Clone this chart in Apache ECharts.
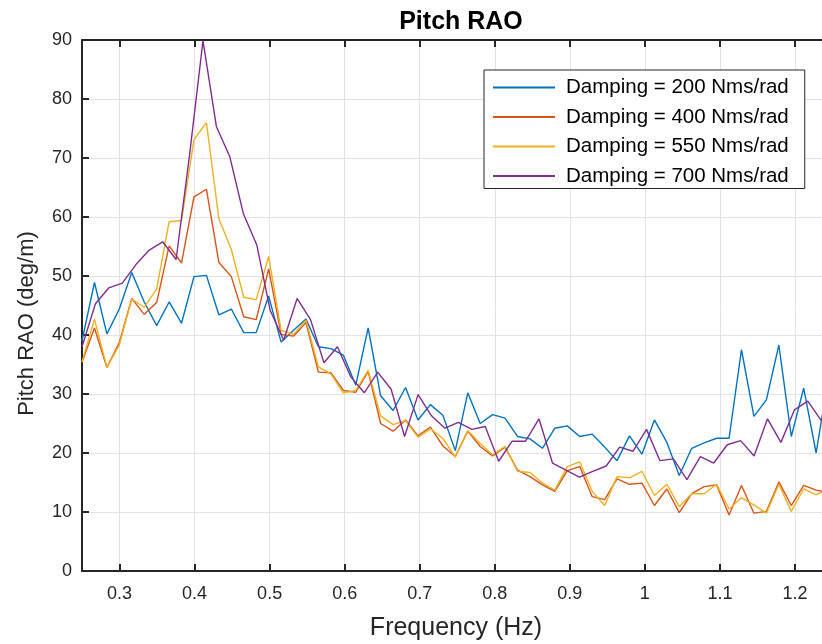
<!DOCTYPE html>
<html><head><meta charset="utf-8">
<script src="https://cdn.jsdelivr.net/npm/echarts@6/dist/echarts.min.js"></script>
<style>html,body{margin:0;padding:0;background:#fff}#c{width:822px;height:644px}</style>
</head><body><div id="c"></div>
<script>
// Frequency grid (Hz) shared by the 200/400/550 Nms/rad runs
const freqA = [0.2500,0.2666,0.2832,0.2997,0.3163,0.3329,0.3495,0.3661,0.3826,0.3992,
  0.4158,0.4324,0.4490,0.4655,0.4821,0.4987,0.5153,0.5319,0.5484,0.5650,
  0.5816,0.5982,0.6148,0.6313,0.6479,0.6645,0.6811,0.6977,0.7142,0.7308,
  0.7474,0.7640,0.7806,0.7971,0.8137,0.8303,0.8469,0.8635,0.8800,0.8966,
  0.9132,0.9298,0.9464,0.9629,0.9795,0.9961,1.0127,1.0293,1.0458,1.0624,
  1.0790,1.0956,1.1122,1.1287,1.1453,1.1619,1.1785,1.1951,1.2116,1.2282,1.2448];
// Frequency grid (Hz) of the 700 Nms/rad run
const freqB = [0.2500,0.2679,0.2858,0.3037,0.3216,0.3396,0.3575,0.3754,0.3933,0.4112,
  0.4291,0.4470,0.4649,0.4828,0.5007,0.5187,0.5366,0.5545,0.5724,0.5903,
  0.6082,0.6261,0.6440,0.6619,0.6798,0.6978,0.7157,0.7336,0.7515,0.7694,
  0.7873,0.8052,0.8231,0.8410,0.8589,0.8769,0.8948,0.9127,0.9306,0.9485,
  0.9664,0.9843,1.0022,1.0201,1.0380,1.0560,1.0739,1.0918,1.1097,1.1276,
  1.1455,1.1634,1.1813,1.1992,1.2171,1.2351,1.2530];

const rao200 = [39.0,48.9,40.2,44.4,50.6,45.6,41.6,45.6,42.0,49.9,
  50.1,43.4,44.4,40.4,40.4,46.6,38.8,40.8,42.7,38.0,
  37.7,36.6,31.5,41.2,29.7,27.2,31.1,25.6,28.2,26.4,
  20.4,30.2,25.0,26.5,25.9,22.8,22.4,20.8,24.2,24.6,
  22.8,23.2,21.0,18.7,22.9,19.8,25.6,21.8,16.2,20.8,
  21.7,22.5,22.5,37.5,26.2,29.0,38.3,22.8,31.0,20.0,33.0];
const rao400 = [35.4,41.2,34.5,38.7,46.2,43.5,45.5,55.1,52.2,63.4,
  64.7,52.3,49.9,43.1,42.6,51.2,40.1,39.8,42.1,33.7,
  33.6,30.6,30.3,33.8,25.0,23.7,25.6,22.9,24.4,21.2,
  19.4,23.7,21.1,19.5,21.0,17.1,16.0,14.6,13.5,17.0,
  17.7,12.6,12.1,15.6,14.7,14.9,11.1,13.9,9.9,13.1,
  14.3,14.6,9.5,14.5,9.8,10.1,15.1,11.1,14.5,13.7,13.3];
const rao550 = [35.4,42.7,34.5,38.3,46.1,44.7,47.8,59.2,59.4,73.1,
  76.0,59.7,54.5,46.4,46.0,53.3,40.8,40.1,42.5,34.6,
  33.4,30.2,30.6,34.0,26.3,24.8,25.5,22.7,24.1,22.5,
  19.3,23.8,21.6,19.7,21.1,16.9,16.7,14.9,13.7,17.7,
  18.5,13.5,11.1,16.0,15.8,16.9,12.8,14.7,10.9,13.1,
  13.1,14.7,10.5,12.4,11.2,9.8,14.7,10.1,13.9,12.9,14.0];
const rao700 = [38.0,45.3,48.0,48.8,51.9,54.4,55.8,52.8,70.5,89.9,
  75.3,70.2,60.6,55.3,44.2,39.1,46.2,42.6,35.3,38.0,
  32.9,30.2,33.7,30.8,22.8,29.9,26.3,24.2,25.2,24.0,
  24.5,18.6,22.0,22.0,25.8,18.3,17.1,15.9,16.9,17.8,
  21.0,20.3,24.0,18.7,19.0,15.5,19.4,18.3,21.4,22.1,
  19.5,25.8,21.8,27.3,28.8,25.5,24.0];

const seriesNames = ['Damping = 200 Nms/rad','Damping = 400 Nms/rad','Damping = 550 Nms/rad','Damping = 700 Nms/rad'];
const seriesColors = ['#0072BD','#D95319','#EDB120','#7E2F8E'];
const xTicks = [0.3,0.4,0.5,0.6,0.7,0.8,0.9,1.0,1.1,1.2];

const font = "'Liberation Sans', Arial, Helvetica, sans-serif";
const axisColor = '#262626';
const gridColor = '#e3e3e3';
function pairs(xs, ys){ return ys.map((y,i)=>[xs[i], y]); }
const seriesData = [pairs(freqA, rao200), pairs(freqA, rao400), pairs(freqA, rao550), pairs(freqB, rao700)];

const chart = echarts.init(document.getElementById('c'), null, {renderer:'canvas'});
const option = {
  animation: false,
  backgroundColor: '#fff',
  title: {
    text: 'Pitch RAO', left: 456, top: 5, textAlign: 'center',
    textStyle: {fontFamily: font, fontWeight: 'bold', fontSize: 25, color: '#000'}
  },
  grid: {left: 82, right: 0, top: 40, bottom: 73, containLabel: false, outerBoundsMode: 'none'},
  legend: {
    orient: 'vertical', left: 484, top: 70,
    padding: [7, 16, 2, 8], itemGap: 8.5, itemWidth: 62, itemHeight: 16,
    backgroundColor: '#fff', borderColor: axisColor, borderWidth: 1,
    itemStyle: {opacity: 0},
    textStyle: {fontFamily: font, fontSize: 20.5, color: '#000', padding: [0,0,0,6]},
    data: seriesNames
  },
  xAxis: [{
    type: 'value', position: 'bottom', min: 0.25, max: 1.236,
    axisLine: {show: true, onZero: false, lineStyle: {color: axisColor, width: 2}},
    axisTick: {show: true, inside: true, length: 7, customValues: xTicks, lineStyle: {color: axisColor, width: 2}},
    axisLabel: {customValues: xTicks, margin: 14, fontFamily: font, fontSize: 18, color: axisColor,
      formatter: v => String(+(+v).toFixed(1))},
    splitLine: {show: true, lineStyle: {color: gridColor, width: 1}},
    name: 'Frequency (Hz)', nameLocation: 'middle', nameGap: 45,
    nameTextStyle: {fontFamily: font, fontSize: 25, color: axisColor, padding: [0, 0, 0, 8]}
  }, {
    type: 'value', position: 'top', min: 0.25, max: 1.236,
    axisLine: {show: true, onZero: false, lineStyle: {color: axisColor, width: 2}},
    axisTick: {show: true, inside: true, length: 7, customValues: xTicks, lineStyle: {color: axisColor, width: 2}},
    axisLabel: {show: false}, splitLine: {show: false}
  }],
  yAxis: {
    type: 'value', min: 0, max: 90, interval: 10,
    axisLine: {show: true, onZero: false, lineStyle: {color: axisColor, width: 2}},
    axisTick: {show: true, inside: true, length: 7, lineStyle: {color: axisColor, width: 2}},
    axisLabel: {margin: 10, fontFamily: font, fontSize: 18, color: axisColor},
    splitLine: {show: true, lineStyle: {color: gridColor, width: 1}},
    name: 'Pitch RAO (deg/m)', nameLocation: 'middle', nameGap: 44,
    nameTextStyle: {fontFamily: font, fontSize: 22, color: axisColor, padding: [0, 36, 0, 0]}
  },
  series: seriesNames.map((n, k) => ({
    name: n, type: 'line', xAxisIndex: 0, data: seriesData[k],
    symbol: 'none', clip: true, smooth: false,
    color: seriesColors[k],
    lineStyle: {color: seriesColors[k], width: 1.4}
  }))
};
chart.setOption(option);
</script></body></html>
